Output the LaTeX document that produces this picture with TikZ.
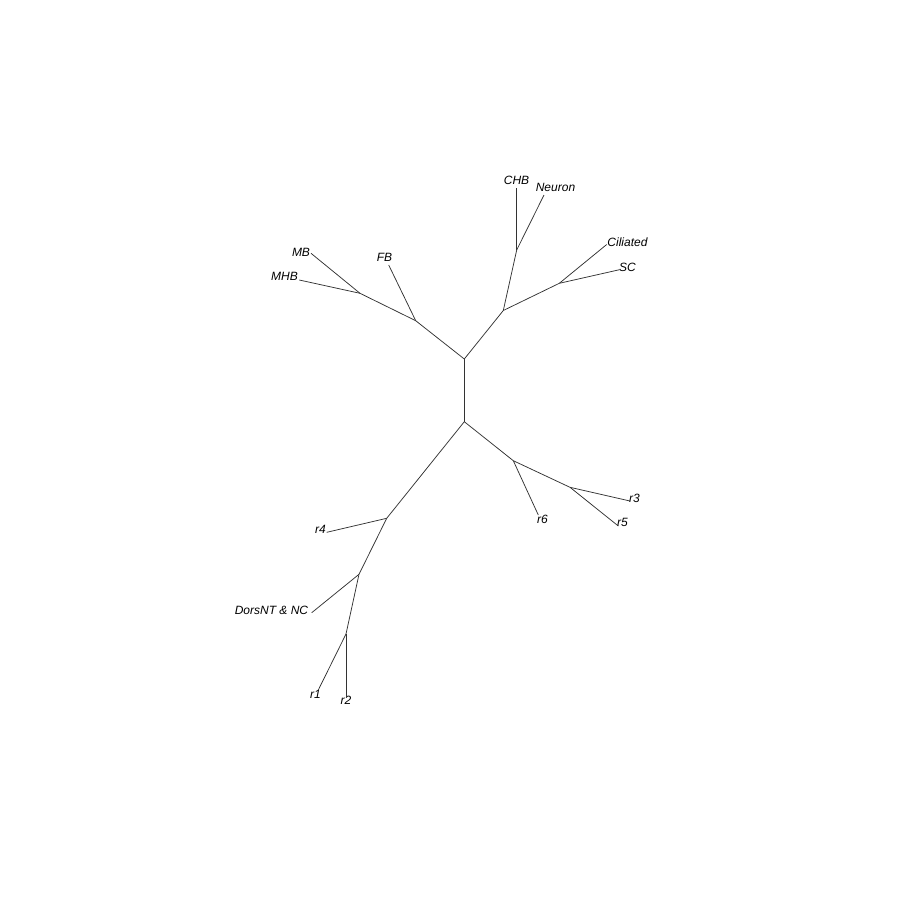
\documentclass[tikz,border=0pt]{standalone}
\usepackage{fontspec}
\setmainfont{Liberation Sans}
\begin{document}
\begin{tikzpicture}[x=1pt,y=-1pt,
  edge/.style={draw=black!80,line width=0.75pt},
  lbl/.style={inner sep=0pt,font=\fontsize{12}{12}\selectfont\itshape}]
\useasboundingbox (0,0) rectangle (900,900);
% internal nodes
\coordinate (n1) at (464.3,359);
\coordinate (n2) at (464.3,421.7);
\coordinate (a) at (415.7,320.7);
\coordinate (amb) at (360,293.3);
\coordinate (b) at (503.3,310.5);
\coordinate (bchb) at (516.7,250);
\coordinate (bcil) at (559.3,283.3);
\coordinate (c) at (513.3,460.7);
\coordinate (c35) at (570,487.3);
\coordinate (d) at (386.7,518.3);
\coordinate (ddors) at (359,574.3);
\coordinate (d12) at (346,634);
% tips
\coordinate (tMB) at (311,253.3);
\coordinate (tMHB) at (299.3,280);
\coordinate (tFB) at (388.7,265);
\coordinate (tCHB) at (516.7,188.3);
\coordinate (tNeuron) at (544,195);
\coordinate (tCil) at (606.7,244.5);
\coordinate (tSC) at (619.5,269.7);
\coordinate (tr6) at (538.3,515);
\coordinate (tr3) at (630,501);
\coordinate (tr5) at (618.3,526);
\coordinate (tr4) at (326.7,532.3);
\coordinate (tDors) at (311.7,612.7);
\coordinate (tr1) at (318.3,690);
\coordinate (tr2) at (346,696.7);
% labels
\node[lbl] (lCHB) at (516.5,180) {CHB};
\node[lbl] (lNeuron) at (555.5,187) {Neuron};
\node[lbl] (lCil) at (627.5,242) {Ciliated};
\node[lbl] (lSC) at (627.5,267) {SC};
\node[lbl] (lMB) at (301,252) {MB};
\node[lbl] (lMHB) at (284.5,276) {MHB};
\node[lbl] (lFB) at (384.5,257) {FB};
\node[lbl] (lr6) at (542.5,519) {r6};
\node[lbl] (lr3) at (634.5,498) {r3};
\node[lbl] (lr5) at (622.5,522) {r5};
\node[lbl] (lr4) at (320.5,529) {r4};
\node[lbl] (lDors) at (271.5,610) {DorsNT \& NC};
\node[lbl] (lr1) at (315.5,694) {r1};
\node[lbl] (lr2) at (346,700) {r2};
% edges
\draw[edge] (n1) -- (n2);
\draw[edge] (n1) -- (a);
\draw[edge] (a) -- (amb);
\draw[edge] (amb) -- (tMB);
\draw[edge] (amb) -- (tMHB);
\draw[edge] (a) -- (tFB);
\draw[edge] (n1) -- (b);
\draw[edge] (b) -- (bchb);
\draw[edge] (bchb) -- (tCHB);
\draw[edge] (bchb) -- (tNeuron);
\draw[edge] (b) -- (bcil);
\draw[edge] (bcil) -- (tCil);
\draw[edge] (bcil) -- (tSC);
\draw[edge] (n2) -- (c);
\draw[edge] (c) -- (tr6);
\draw[edge] (c) -- (c35);
\draw[edge] (c35) -- (tr3);
\draw[edge] (c35) -- (tr5);
\draw[edge] (n2) -- (d);
\draw[edge] (d) -- (tr4);
\draw[edge] (d) -- (ddors);
\draw[edge] (ddors) -- (tDors);
\draw[edge] (ddors) -- (d12);
\draw[edge] (d12) -- (tr1);
\draw[edge] (d12) -- (tr2);
\end{tikzpicture}
\end{document}
